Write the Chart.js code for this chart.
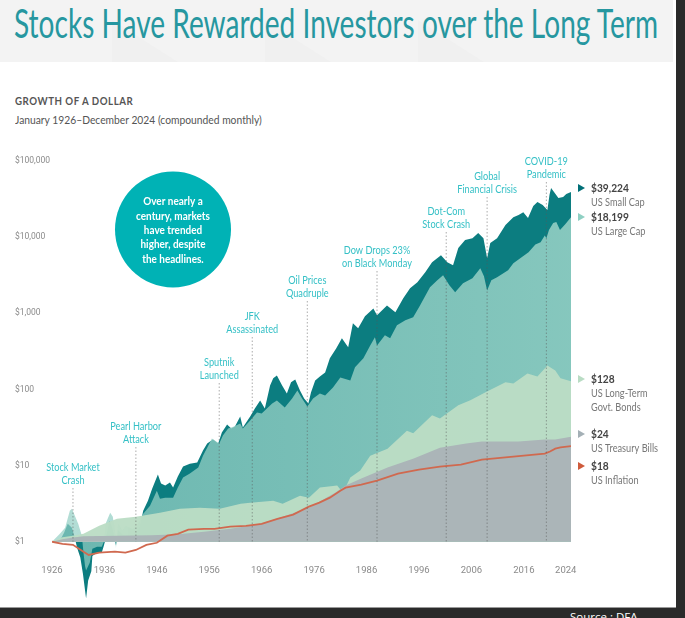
<!DOCTYPE html>
<html>
<head>
<meta charset="utf-8">
<title>Stocks Have Rewarded Investors over the Long Term</title>
<script src="https://cdn.jsdelivr.net/npm/chart.js@4/dist/chart.umd.min.js"></script>
<style>
  html, body { margin: 0; padding: 0; width: 685px; height: 618px; overflow: hidden; background: #2a2a2a; }
  #panel { position: absolute; left: 0; top: 0; width: 676px; height: 607px; background: #fff; border-bottom: 1px solid #999; }
  #band { position: absolute; left: 0; top: 0; width: 673px; height: 62px; background: #f3f3f3; overflow: hidden; }
  .facet { position: absolute; top: 0; width: 66px; height: 62px; background: #f0f0f0; clip-path: polygon(0 20px, 100% 100%, 0 100%); }
  .fit { position: absolute; white-space: nowrap; transform-origin: 0 0; }
  #title { left: 14px; top: -1px; font: 40px Lato, sans-serif; color: #2697a0; }
  #head { left: 15px; top: 94px; font: bold 11px Lato, sans-serif; letter-spacing: .6px; color: #555; }
  #sub { left: 15px; top: 112px; font: 12px Lato, sans-serif; color: #555; }
  #source { left: 570px; top: 609px; font: 11.5px "Open Sans", sans-serif; color: #fff; }
  canvas { position: absolute; left: 0; top: 0; }
</style>
</head>
<body>
<div id="panel"></div>
<div id="band">
  <div class="facet" style="left:112px"></div>
  <div class="facet" style="left:265px"></div>
  <div class="facet" style="left:418px"></div>
</div>
<div id="title" class="fit" data-w="644">Stocks Have Rewarded Investors over the Long Term</div>
<div id="head" class="fit" data-w="118">GROWTH OF A DOLLAR</div>
<div id="sub" class="fit" data-w="247">January 1926–December 2024 (compounded monthly)</div>
<div id="source" class="fit">Source : DFA</div>
<canvas id="chart" width="685" height="623"></canvas>
<script>
// valeurs
const smallYears = [1926,1927.5,1928.3,1929,1929.8,1930.3,1930.8,1931.4,1931.9,1932.5,1932.9,1933.5,1933.7,1934.6,1935.5,1935.9,1936.5,1937,1937.6,1938.2,1938.6,1939.4,1940.3,1941.3,1942,1942.8,1943.4,1944.3,1945.1,1946.2,1946.8,1947.6,1948.5,1949.1,1950,1951,1952.3,1953.7,1954.8,1955.6,1956.7,1957.7,1958.4,1959.4,1960.2,1960.9,1961.9,1962.4,1963.8,1964.7,1965.7,1966.6,1967.6,1968.2,1968.9,1969.9,1970.8,1971.6,1972.4,1973.3,1974.1,1974.9,1975.4,1976.2,1977.1,1978.1,1979,1980.2,1981.3,1982.5,1983.4,1984.4,1985.7,1987.3,1988,1989.9,1991.5,1993,1994.3,1995.7,1997.2,1998.5,2000.2,2001.4,2002.5,2003.5,2004.8,2006.2,2007.3,2008.3,2009,2009.6,2010.9,2012.5,2014,2015,2015.9,2016.8,2017.8,2018.6,2019.6,2020.5,2020.9,2021.2,2022.6,2023.5,2024.1,2025];
const smallCap = [1,1.03,1.31,1.72,1.53,1.16,0.83,0.62,0.38,0.18,0.31,0.41,0.65,0.72,0.72,0.89,1.27,1.89,1.4,0.89,1.4,1.24,1.2,1.13,1.27,1.62,2.56,3.46,4.98,7.62,5.8,5.46,5.98,5.14,7.18,9.7,10.6,10.95,15.75,19.5,22,19.5,27.2,34.6,30.7,32.6,44.1,31.6,44.1,56.2,71.8,56.2,113,140,153,113,88.7,124,135,97,76.2,65.5,91.4,131,148,167,256,346,469,357,740,635,914,1160,942,1270,1030,1575,2130,2560,3460,4690,5800,4690,4280,7180,9140,9700,11300,9700,5300,8350,9700,14400,18300,19500,21300,17800,25600,28900,26400,22700,36000,44100,32600,33600,36800,39224];

const largeYears = [1926,1927.5,1928.5,1929.4,1929.8,1931,1931.7,1932,1932.3,1932.5,1933.2,1933.7,1934.6,1935.5,1935.9,1936.3,1937.1,1937.6,1938,1938.2,1938.6,1939.4,1940.1,1941.3,1942,1943.4,1944.7,1946,1946.6,1947.6,1949.1,1950,1951,1952.3,1953.9,1954.8,1955.6,1956.5,1957.9,1958.6,1959.6,1960.7,1961.9,1962.4,1963.8,1965.1,1966,1967,1968,1968.9,1970.4,1971.8,1972.8,1973.7,1974.7,1975.8,1977.1,1978.1,1979.6,1981,1982.9,1983.8,1985.4,1986.7,1987.6,1988,1989.5,1990.5,1991.8,1993.4,1994.9,1996.2,1998.1,1999.5,2000.6,2001.8,2002.9,2004.4,2006.2,2007.7,2008.4,2009,2009.8,2010.9,2013,2014,2016.9,2018.2,2019.2,2020,2020.3,2020.8,2021.6,2022.2,2022.9,2023.9,2025];
const largeCap = [1,1.27,1.53,2.56,2.72,1.72,1.2,0.72,0.48,0.42,0.53,0.81,0.86,0.86,1,1.78,2.41,2.13,1.4,0.83,1.72,1.4,1.62,1.48,1.53,2.34,2.98,4.69,3.68,3.79,3.79,5.14,6.96,7.86,9.42,13.5,17.2,22.7,19.5,24.8,30.7,32.6,35.7,30.7,39.1,49.8,48.3,56.2,65.5,71.8,58,76.2,97,76.2,59.8,76.2,88.7,83.5,106,144,131,195,256,379,483,379,514,469,696,810,887,1270,2200,2720,3160,2340,1890,2480,2890,3910,3070,2000,2720,2980,3680,4550,6350,8000,8600,10500,9700,12400,15300,15800,12400,14800,18199];

const bondYears = [1926,1928,1930,1932,1935,1938.4,1942,1946.6,1950.4,1954.2,1958,1962,1963.8,1968.2,1970,1973.3,1975,1977.1,1980.4,1981.5,1982.9,1984.8,1986.7,1990,1993.7,1994.9,1998.5,2000,2003.5,2005.8,2008.6,2012.5,2014,2016.7,2018.6,2020.5,2022,2023,2025];
const bonds = [1,1.15,1.2,1.27,1.62,2,2.13,2.41,2.72,2.8,2.72,3.16,3.26,3.46,3.16,4.03,3.79,5.14,5.46,4.41,6.96,8.6,13.5,16.7,28.7,26.5,45.8,41.5,62,72,91,124,120,162,148,207,178,140,128];

const billYears = [1926,1928,1930,1932,1945,1950,1955,1960,1965,1970,1975,1980,1982,1985,1990,1995,2000,2005,2008,2015,2020,2022,2025];
const bills = [1,1.08,1.14,1.18,1.22,1.25,1.35,1.48,1.67,2.13,2.8,4.41,5.46,6.75,9.42,12.4,17.2,19.5,20.7,20.7,22,22,24];

const inflYears = [1926,1928,1930,1932,1933,1935,1938,1940,1942,1944,1946,1948,1950,1952,1955,1957,1960,1963,1966,1969,1972,1975,1977,1979,1981,1982,1985,1988,1992,1996,2000,2004,2008,2012,2016,2020,2021,2022,2023,2025];
const inflation = [1,0.94,0.91,0.74,0.67,0.72,0.74,0.72,0.78,0.91,0.97,1.2,1.27,1.44,1.48,1.48,1.58,1.62,1.72,2,2.27,2.89,3.26,3.79,4.69,5.14,5.62,6.35,7.86,8.87,9.7,10.3,12,12.7,13.5,14.4,15.3,16.7,17.3,18];

const xTicks = [1926,1936,1946,1956,1966,1976,1986,1996,2006,2016,2024];
const yTicks = [1,10,100,1000,10000,100000];

const eventYears = [1930,1942,1957.9,1964.2,1974.7,1988,2001.2,2009,2020.3];
const eventNames = [['Stock Market','Crash'],['Pearl Harbor','Attack'],['Sputnik','Launched'],['JFK','Assassinated'],['Oil Prices','Quadruple'],['Dow Drops 23%','on Black Monday'],['Dot-Com','Stock Crash'],['Global','Financial Crisis'],['COVID-19','Pandemic']];
const eventTops = [488,447,383,337,301,271,232,197,182];

const endValues = ['$39,224','$18,199','$128','$24','$18'];
const endNames = [['US Small Cap'],['US Large Cap'],['US Long-Term','Govt. Bonds'],['US Treasury Bills'],['US Inflation']];
const endColors = ['#006f77','#8fd0c3','#b9dcc4','#a4b0b6','#cf5b3c'];
const endY = [188,217,379,434,466];

const calloutLines = ['Over nearly a','century, markets','have trended','higher, despite','the headlines.'];

function points(years, values) {
    return years.map((y, i) => ({x: y, y: values[i]}));
}

function area(label, years, values, color) {
    return {label: label, data: points(years, values), backgroundColor: color, borderWidth: 0, pointRadius: 0, fill: {value: 1}};
}

// pas de police étroite installée : on resserre le texte à la main
function narrowText(ctx, text, x, y, stretch) {
    ctx.save();
    ctx.translate(x, y);
    ctx.scale(stretch, 1);
    ctx.fillText(text, 0, 0);
    ctx.restore();
}

document.fonts.ready.then(() => {
    document.querySelectorAll('.fit[data-w]').forEach(el => {
        el.style.transform = 'scaleX(' + (el.dataset.w / el.offsetWidth) + ')';
    });
});

// les annotations : événements, bulle et libellés de fin de courbe
const annotations = {
    id: 'annotations',
    afterDatasetsDraw(chart) {
        const ctx = chart.ctx;
        const x = chart.scales.x;
        const y = chart.scales.y;
        ctx.save();
        ctx.textBaseline = 'middle';

        eventYears.forEach((year, i) => {
            const px = x.getPixelForValue(year);
            ctx.strokeStyle = 'rgba(90,90,90,.5)';
            ctx.lineWidth = 1;
            ctx.setLineDash([1.5, 2]);
            ctx.beginPath();
            ctx.moveTo(px, eventTops[i]);
            ctx.lineTo(px, y.getPixelForValue(1));
            ctx.stroke();
            ctx.setLineDash([]);
            ctx.fillStyle = '#35c0c6';
            ctx.font = '11.5px Lato, sans-serif';
            ctx.textAlign = 'center';
            narrowText(ctx, eventNames[i][0], px, eventTops[i] - 21, 0.8);
            narrowText(ctx, eventNames[i][1], px, eventTops[i] - 8, 0.8);
        });

        ctx.fillStyle = '#00b2b5';
        ctx.beginPath();
        ctx.arc(173, 229.5, 58, 0, Math.PI * 2);
        ctx.fill();
        ctx.fillStyle = '#fff';
        ctx.font = 'bold 10.5px Lato, sans-serif';
        calloutLines.forEach((line, i) => narrowText(ctx, line, 173, 202 + i * 14.3, 0.95));

        ctx.textAlign = 'left';
        endValues.forEach((value, i) => {
            const py = endY[i];
            ctx.fillStyle = endColors[i];
            ctx.beginPath();
            ctx.moveTo(578, py - 4);
            ctx.lineTo(585, py);
            ctx.lineTo(578, py + 4);
            ctx.closePath();
            ctx.fill();
            ctx.fillStyle = '#444';
            ctx.font = 'bold 12px Lato, sans-serif';
            narrowText(ctx, value, 591, py, 0.85);
            ctx.fillStyle = '#777';
            ctx.font = '11.5px Lato, sans-serif';
            endNames[i].forEach((name, j) => narrowText(ctx, name, 591, py + 14.5 + j * 14, 0.8));
        });
        ctx.restore();
    }
};

new Chart(document.getElementById('chart').getContext('2d'), {
    type: 'line',
    data: {
        datasets: [
            {label: 'US Inflation', data: points(inflYears, inflation), borderColor: '#d0694f', borderWidth: 1.8, pointRadius: 0, fill: false},
            area('US Treasury Bills', billYears, bills, '#abb5b8'),
            area('US Long-Term Govt. Bonds', bondYears, bonds, 'rgba(187,221,197,.96)'),
            area('US Large Cap', largeYears, largeCap, (c) => {
                const a = c.chart.chartArea;
                if (!a) return 'rgba(147,207,196,.8)';
                const g = c.chart.ctx.createLinearGradient(a.left, 0, a.right, 0);
                g.addColorStop(0, 'rgba(147,207,196,.7)');
                g.addColorStop(1, 'rgba(147,207,196,.9)');
                return g;
            }),
            area('US Small Cap', smallYears, smallCap, '#0c7d80')
        ]
    },
    options: {
        responsive: false,
        animation: false,
        layout: {autoPadding: false, padding: {left: 15, right: 114, top: 161, bottom: 1}},
        plugins: {legend: {display: false}, tooltip: {enabled: false}},
        elements: {line: {tension: 0}},
        scales: {
            x: {
                type: 'linear',
                position: {y: 1},
                min: 1926,
                max: 2025,
                grid: {display: false},
                border: {display: false},
                afterBuildTicks: (s) => { s.ticks = xTicks.map(v => ({value: v})); },
                ticks: {
                    autoSkip: false,
                    maxRotation: 0,
                    padding: 15,
                    color: '#8a8a8a',
                    font: {family: 'Roboto', size: 9.5},
                    callback: (v) => String(v)
                }
            },
            y: {
                type: 'logarithmic',
                min: 0.1,
                max: 100000,
                grid: {display: false},
                border: {display: false},
                afterFit: (s) => { s.width = 37; },
                afterBuildTicks: (s) => { s.ticks = yTicks.map(v => ({value: v})); },
                ticks: {
                    crossAlign: 'far',
                    padding: 0,
                    color: '#8a8a8a',
                    font: {family: 'Roboto', size: 8.5},
                    callback: (v) => '$' + v.toLocaleString('en-US')
                }
            }
        }
    },
    plugins: [annotations]
});
</script>
</body>
</html>
